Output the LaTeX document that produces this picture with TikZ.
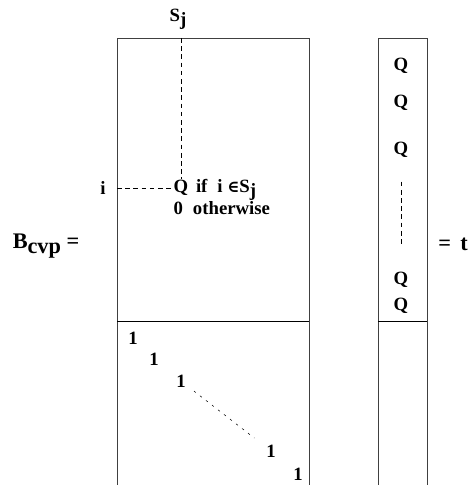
\documentclass[tikz,border=0pt]{standalone}
\usepackage{fontspec}
\setmainfont{Liberation Serif}
\newfontfamily\symfont{DejaVu Serif}
\usetikzlibrary{positioning}
\tikzset{
  every picture/.style={line width=0.6pt},
  lbl/.style={font=\fontsize{16}{18}\selectfont\bfseries, inner sep=1pt},
  big/.style={lbl, font=\fontsize{19}{21}\selectfont\bfseries},
  frame/.style={draw=black!75, line width=0.8pt},
  split/.style={draw=black, line width=0.8pt},
  guide/.style={draw, line width=0.5pt, dash pattern=on 4pt off 3pt},
  diag/.style={draw, line width=0.45pt, dash pattern=on 2pt off 4.5pt},
}
\newcommand{\sbs}[1]{\raisebox{-0.45ex}{#1}}
\newcommand{\isin}{{\symfont\fontsize{14}{16}\selectfont ∈}}

\begin{document}
\begin{tikzpicture}[x=0.03cm, y=-0.03cm]
  \useasboundingbox (0,0) rectangle (472,485);

  % matrix B_cvp, open at the bottom
  \coordinate (btl) at (117,38);
  \coordinate (btr) at (309,38);
  \draw[frame] (117,485) -- (btl) -- (btr) -- (309,485);
  \draw[split] (117,321) -- (309,321);
  \node[big] (bname) at (46,246) {B\sbs{cvp} =};

  % entry of the upper block
  \node[lbl] (sj) at (178,19) {S\sbs{j}};
  \coordinate (sjtop) at (181,38);
  \node[lbl] (qij) at (181,188) {Q};
  \node[lbl, anchor=base west, xshift=4pt] (cond) at (qij.base east) {if\; i \isin S\sbs{j}};
  \node[lbl, anchor=base west] (other) at ([yshift=-19pt]qij.base west) {0\; otherwise};
  \node[lbl] (irow) at (103,188) {i};
  \draw[guide] (sjtop) -- (qij);
  \draw[guide] (irow -| btl) -- (qij);

  % identity block
  \foreach \n/\x/\y in {1/133/338, 2/154/359, 3/181/381, 4/271/451, 5/298/474}
    \node[lbl] (d\n) at (\x,\y) {1};
  \draw[diag, shorten <=14pt, shorten >=18pt] (d3.center) -- (d4.center);

  % right hand side t
  \draw[frame] (378,485) -- (378,38) -- (427,38) -- (427,485);
  \draw[split] (378,321) -- (427,321);
  \foreach \n/\y in {1/66, 2/103, 3/150, 4/280, 5/306}
    \node[lbl] (q\n) at (401,\y) {Q};
  \draw[guide, shorten <=27pt, shorten >=31pt] (q3.center) -- (q4.center);
  \node[big] (rhs) at (453,244) {=\, t};
\end{tikzpicture}
\end{document}
